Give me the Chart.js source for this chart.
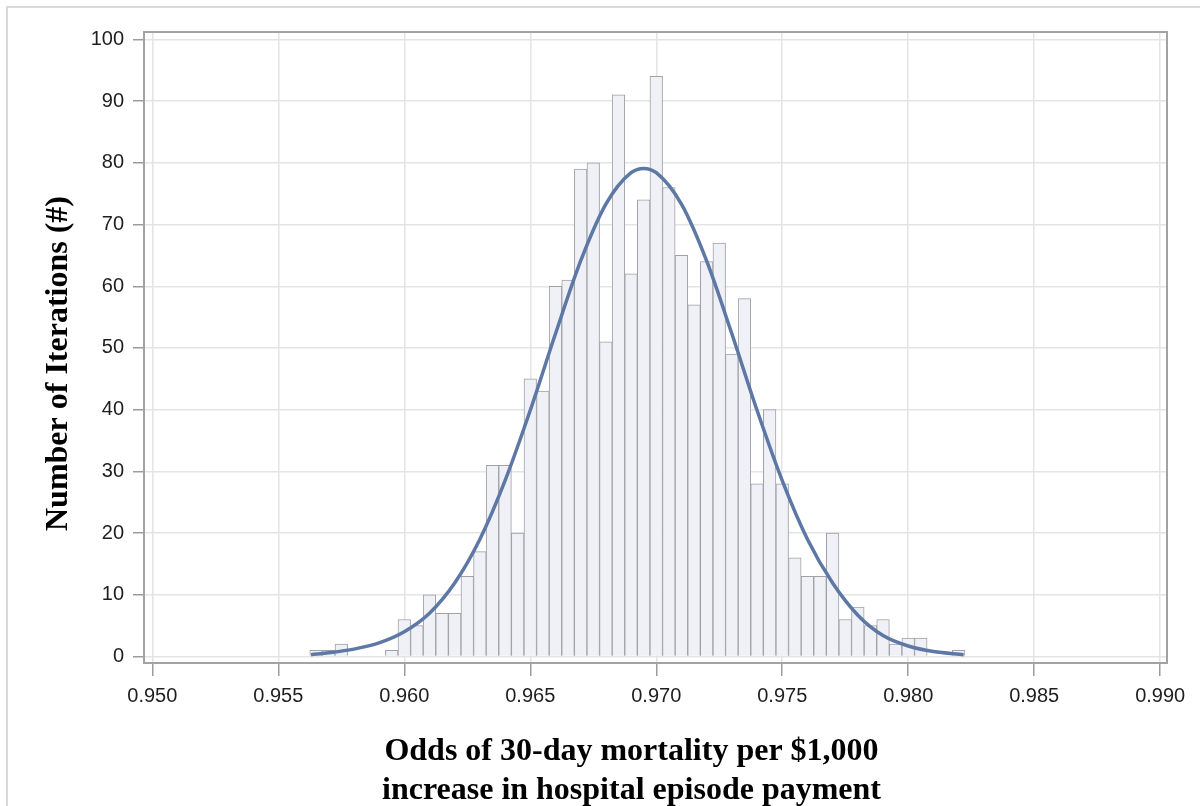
<!DOCTYPE html>
<html>
<head>
<meta charset="utf-8">
<script src="https://cdn.jsdelivr.net/npm/chart.js@4.4.1/dist/chart.umd.min.js"></script>
<style>
    html, body { margin: 0; padding: 0; background: #fff; overflow: hidden; }
    #wrap { position: relative; width: 1200px; height: 806px; overflow: hidden; }
    #frame { position: absolute; left: 6px; top: 6px; width: 1300px; height: 900px;
             border-left: 2px solid #d9d9d9; border-top: 2px solid #d9d9d9; }
    #chart { position: absolute; left: 0; top: 0; }
</style>
</head>
<body>
<div id="wrap">
    <div id="frame"></div>
    <canvas id="chart" width="1200" height="810"></canvas>
</div>
<script>
// histogram bins (centre of each 0.0005 wide bin) and counts
const binCenters = [
    0.9565, 0.9570, 0.9575, 0.9580, 0.9585, 0.9590, 0.9595, 0.9600, 0.9605, 0.9610,
    0.9615, 0.9620, 0.9625, 0.9630, 0.9635, 0.9640, 0.9645, 0.9650, 0.9655, 0.9660,
    0.9665, 0.9670, 0.9675, 0.9680, 0.9685, 0.9690, 0.9695, 0.9700, 0.9705, 0.9710,
    0.9715, 0.9720, 0.9725, 0.9730, 0.9735, 0.9740, 0.9745, 0.9750, 0.9755, 0.9760,
    0.9765, 0.9770, 0.9775, 0.9780, 0.9785, 0.9790, 0.9795, 0.9800, 0.9805, 0.9810,
    0.9815, 0.9820
];
const binCounts = [
    1, 1, 2, 0, 0, 0, 1, 6, 5, 10,
    7, 7, 13, 17, 31, 31, 20, 45, 43, 60,
    61, 79, 80, 51, 91, 62, 74, 94, 76, 65,
    57, 64, 67, 49, 58, 28, 40, 28, 16, 13,
    13, 20, 6, 8, 5, 6, 2, 3, 3, 0,
    0, 1
];

// fitted curve
const curveX = [
    0.9563, 0.9570, 0.9580, 0.9590, 0.9600, 0.9610, 0.9620, 0.9630, 0.9640, 0.9650,
    0.9660, 0.9670, 0.9680, 0.9690, 0.9695, 0.9700, 0.9710, 0.9720, 0.9730, 0.9740,
    0.9750, 0.9760, 0.9770, 0.9780, 0.9790, 0.9800, 0.9810, 0.9822
];
const curveY = [
    0.3, 0.6, 1.2, 2.2, 4.0, 7.0, 11.9, 19.0, 28.5, 39.9,
    52.3, 64.1, 73.3, 78.4, 79.1, 78.4, 73.3, 64.1, 52.3, 39.9,
    28.5, 19.0, 11.9, 6.7, 3.4, 1.7, 0.8, 0.3
];

const xTicks = [0.950, 0.955, 0.960, 0.965, 0.970, 0.975, 0.980, 0.985, 0.990];
const yTicks = [0, 10, 20, 30, 40, 50, 60, 70, 80, 90, 100];

const xTitle = ['Odds of 30-day mortality per $1,000      ',
                'increase in hospital episode payment      '];
const yTitle = 'Number of Iterations (#)    ';

const tickFont = { family: "'Liberation Sans', Arial, sans-serif", size: 20 };
const titleFont = { family: "'Liberation Serif', 'Times New Roman', serif", size: 32, weight: 'bold' };

// box round the plot area
const plotFrame = {
    id: 'plotFrame',
    afterDraw(chart) {
        const { ctx, chartArea: a } = chart;
        ctx.save();
        ctx.strokeStyle = '#a2a2a2';
        ctx.lineWidth = 2;
        ctx.strokeRect(a.left, a.top, a.right - a.left, a.bottom - a.top);
        ctx.restore();
    }
};

new Chart(document.getElementById('chart').getContext('2d'), {
    type: 'bar',
    data: {
        datasets: [
            {
                type: 'line',
                data: curveX.map((x, i) => ({ x: x, y: curveY[i] })),
                borderColor: '#5d78a4',
                borderWidth: 3.5,
                pointRadius: 0,
                cubicInterpolationMode: 'monotone',
                order: 0
            },
            {
                type: 'bar',
                data: binCenters.map((x, i) => ({ x: x, y: binCounts[i] })),
                backgroundColor: '#f0f1f7',
                borderColor: '#a0a0a6',
                borderWidth: 1,
                barPercentage: 1,
                categoryPercentage: 1,
                order: 1
            }
        ]
    },
    options: {
        responsive: false,
        animation: false,
        layout: { padding: { left: 0, top: 32, right: 33, bottom: 0 } },
        plugins: {
            legend: { display: false },
            tooltip: { enabled: false }
        },
        scales: {
            x: {
                type: 'linear',
                offset: false,
                min: 0.94967,
                max: 0.99027,
                afterBuildTicks: (axis) => { axis.ticks = xTicks.map(v => ({ value: v })); },
                afterFit: (axis) => { axis.height = 147; },
                grid: { offset: false, color: '#e4e4e4', lineWidth: 1.5, tickColor: '#9c9c9c', tickWidth: 1.5, tickLength: 13 },
                border: { display: false },
                ticks: {
                    font: tickFont,
                    color: '#1e1e1e',
                    padding: 8,
                    maxRotation: 0,
                    callback: (v) => v.toFixed(3)
                },
                title: {
                    display: true,
                    text: xTitle,
                    font: { ...titleFont, lineHeight: 1.22 },
                    color: '#000',
                    padding: { top: 0, bottom: 0 }
                }
            },
            y: {
                min: -1.05,
                max: 101.2,
                afterBuildTicks: (axis) => { axis.ticks = yTicks.map(v => ({ value: v })); },
                afterFit: (axis) => { axis.width = 144; },
                grid: { color: '#e4e4e4', lineWidth: 1.5, tickColor: '#9c9c9c', tickWidth: 1.5, tickLength: 11 },
                border: { display: false },
                ticks: {
                    font: tickFont,
                    color: '#1e1e1e',
                    padding: 9
                },
                title: {
                    display: true,
                    text: yTitle,
                    font: { ...titleFont, lineHeight: 1.2 },
                    color: '#000',
                    padding: { top: 40, bottom: 0 }
                }
            }
        }
    },
    plugins: [plotFrame]
});
</script>
</body>
</html>
